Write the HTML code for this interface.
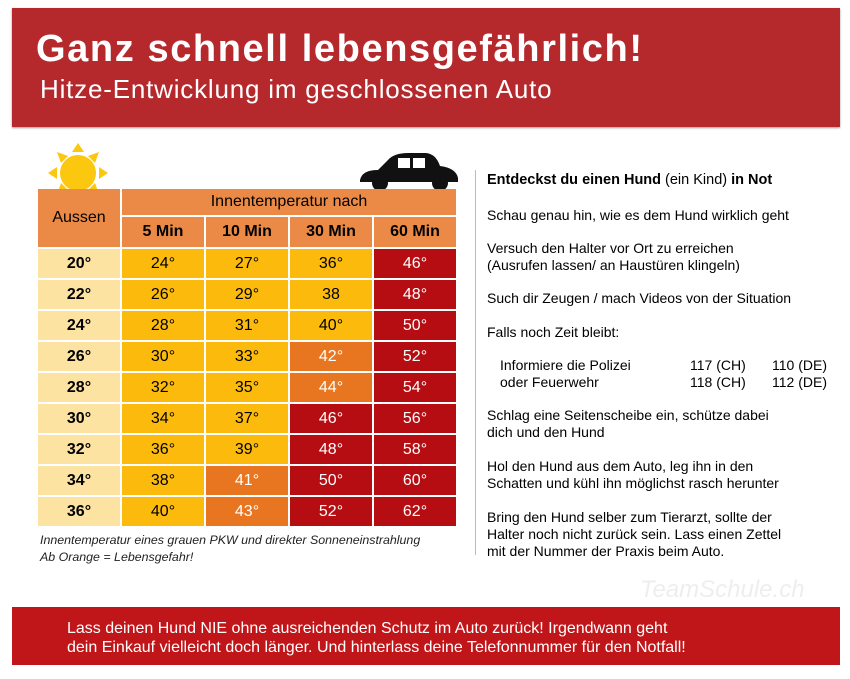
<!DOCTYPE html>
<html><head><meta charset="utf-8"><style>
body{margin:0;width:850px;height:679px;background:#fff;position:relative;overflow:hidden;font-family:"Liberation Sans",sans-serif}
.hdr{position:absolute;left:12px;top:8px;width:828px;height:119px;background:#b5292d;box-shadow:0 1px 2px #999}
.h1{position:absolute;left:24px;top:20px;color:#fff;font-size:38px;font-weight:bold;letter-spacing:1.6px;white-space:nowrap}
.h2{position:absolute;left:28px;top:66px;color:#fff;font-size:26px;letter-spacing:0.8px;white-space:nowrap}
table{position:absolute;left:36px;top:187px;border-collapse:separate;border-spacing:2px;font-size:16px}
td{width:82px;height:29px;text-align:center;padding:0}
.o{background:#ea8a46}.a{background:#fde3a2;font-weight:bold}.y{background:#fcbb0c}.r{background:#b60d12;color:#fff}.g{background:#e8751f;color:#fff}
.cap{position:absolute;left:40px;top:532px;font-size:12.4px;font-style:italic;line-height:17px;color:#222;white-space:nowrap}
.rt{position:absolute;left:487px;font-size:14px;line-height:17px;color:#000;white-space:nowrap}
.ftr{position:absolute;left:12px;top:607px;width:828px;height:58px;background:#c0161a}
.ftr div{position:absolute;left:55px;top:12px;color:#fff;font-size:16px;line-height:19px;white-space:nowrap}
</style></head><body>
<div class="hdr"><div class="h1">Ganz schnell lebensgefährlich!</div><div class="h2">Hitze-Entwicklung im geschlossenen Auto</div></div>
<svg style="position:absolute;left:44px;top:135px" width="72" height="72"><g fill="#fcc70f"><circle cx="34" cy="38" r="18"/><polygon points="34,8 28,17 40,17"/><polygon points="34,68 28,59 40,59"/><polygon points="4,38 13,32 13,44"/><polygon points="64,38 55,32 55,44"/><polygon points="13,17 24,21 17,28"/><polygon points="55,17 44,21 51,28"/><polygon points="13,59 24,55 17,48"/><polygon points="55,59 44,55 51,48"/></g></svg>
<svg style="position:absolute;left:358px;top:150px" width="105" height="45"><path d="M2,30 Q4,20 20,20 L30,10 Q36,3 50,3 L68,3 Q78,4 82,16 Q98,18 100,28 L100,32 L2,32Z" fill="#111"/><rect x="40" y="8" width="12" height="10" fill="#fff"/><rect x="55" y="8" width="12" height="10" fill="#fff"/><circle cx="22" cy="33" r="8" fill="#111"/><circle cx="82" cy="33" r="8" fill="#111"/></svg>
<table>
<tr><td class="o" rowspan="2" style="height:58px">Aussen</td><td class="o" colspan="4" style="height:26px">Innentemperatur nach</td></tr>
<tr style="font-weight:bold"><td class="o">5 Min</td><td class="o">10 Min</td><td class="o">30 Min</td><td class="o">60 Min</td></tr>
<tr><td class="a">20°</td><td class="y">24°</td><td class="y">27°</td><td class="y">36°</td><td class="r">46°</td></tr>
<tr><td class="a">22°</td><td class="y">26°</td><td class="y">29°</td><td class="y">38</td><td class="r">48°</td></tr>
<tr><td class="a">24°</td><td class="y">28°</td><td class="y">31°</td><td class="y">40°</td><td class="r">50°</td></tr>
<tr><td class="a">26°</td><td class="y">30°</td><td class="y">33°</td><td class="g">42°</td><td class="r">52°</td></tr>
<tr><td class="a">28°</td><td class="y">32°</td><td class="y">35°</td><td class="g">44°</td><td class="r">54°</td></tr>
<tr><td class="a">30°</td><td class="y">34°</td><td class="y">37°</td><td class="r">46°</td><td class="r">56°</td></tr>
<tr><td class="a">32°</td><td class="y">36°</td><td class="y">39°</td><td class="r">48°</td><td class="r">58°</td></tr>
<tr><td class="a">34°</td><td class="y">38°</td><td class="g">41°</td><td class="r">50°</td><td class="r">60°</td></tr>
<tr><td class="a">36°</td><td class="y">40°</td><td class="g">43°</td><td class="r">52°</td><td class="r">62°</td></tr>
</table>
<div class="cap">Innentemperatur eines grauen PKW und direkter Sonneneinstrahlung<br>Ab Orange = Lebensgefahr!</div>
<div style="position:absolute;left:475px;top:170px;width:1px;height:385px;background:#bbb"></div>
<div class="rt" style="top:172px;font-size:14.5px"><b>Entdeckst du einen Hund</b> (ein Kind) <b>in Not</b></div>
<div class="rt" style="top:207px">Schau genau hin, wie es dem Hund wirklich geht</div>
<div class="rt" style="top:240px">Versuch den Halter vor Ort zu erreichen<br>(Ausrufen lassen/ an Haustüren klingeln)</div>
<div class="rt" style="top:290px">Such dir Zeugen / mach Videos von der Situation</div>
<div class="rt" style="top:324px">Falls noch Zeit bleibt:</div>
<div class="rt" style="top:357px;left:500px">Informiere die Polizei<br>oder Feuerwehr</div>
<div class="rt" style="top:357px;left:690px">117 (CH)<br>118 (CH)</div>
<div class="rt" style="top:357px;left:772px">110 (DE)<br>112 (DE)</div>
<div class="rt" style="top:407px">Schlag eine Seitenscheibe ein, schütze dabei<br>dich und den Hund</div>
<div class="rt" style="top:458px">Hol den Hund aus dem Auto, leg ihn in den<br>Schatten und kühl ihn möglichst rasch herunter</div>
<div class="rt" style="top:509px">Bring den Hund selber zum Tierarzt, sollte der<br>Halter noch nicht zurück sein. Lass einen Zettel<br>mit der Nummer der Praxis beim Auto.</div>
<div style="position:absolute;left:640px;top:576px;font-size:24px;font-style:italic;color:#eee">TeamSchule.ch</div>
<div class="ftr"><div>Lass deinen Hund NIE ohne ausreichenden Schutz im Auto zurück! Irgendwann geht<br>dein Einkauf vielleicht doch länger. Und hinterlass deine Telefonnummer für den Notfall!</div></div>
</body></html>
